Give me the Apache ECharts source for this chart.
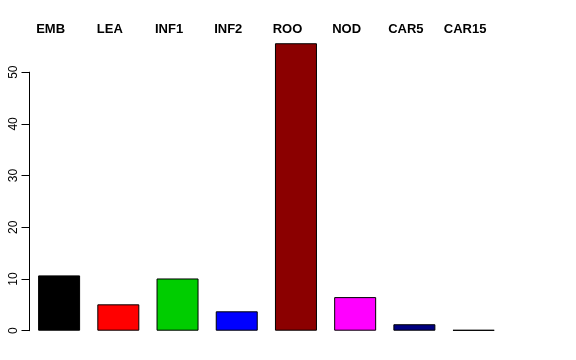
<!DOCTYPE html>
<html>
<head>
<meta charset="utf-8">
<script src="https://cdn.jsdelivr.net/npm/echarts@6/dist/echarts.min.js"></script>
<style>html,body{margin:0;padding:0;background:#fff}#c{width:576px;height:360px}</style>
</head>
<body>
<div id="c"></div>
<script>
const categories = ['EMB', 'LEA', 'INF1', 'INF2', 'ROO', 'NOD', 'CAR5', 'CAR15'];
const values = [10.7, 5.1, 10.1, 3.75, 55.6, 6.5, 1.25, 0.15];
const colors = ['#000000', '#FF0000', '#00CD00', '#0000FF', '#8B0000', '#FF00FF', '#000080', '#222222'];
const yTicks = [0, 10, 20, 30, 40, 50];

const chart = echarts.init(document.getElementById('c'), null, {renderer: 'canvas'});
chart.setOption({
  animation: false,
  backgroundColor: '#ffffff',
  grid: {left: 29.5, right: 72.8, top: 72.2, bottom: 29.3, containLabel: false},
  xAxis: [{
    type: 'category',
    data: categories,
    position: 'top',
    boundaryGap: true,
    axisLine: {show: false},
    axisTick: {show: false},
    splitLine: {show: false},
    axisLabel: {
      show: true, interval: 0, margin: 36,
      fontFamily: 'Liberation Sans, Arial, sans-serif',
      fontWeight: 'bold', fontSize: 13, color: '#000',
      padding: [0, 17, 0, 0]
    }
  }],
  yAxis: [{
    type: 'value',
    min: yTicks[0], max: yTicks[yTicks.length - 1], interval: 10,
    axisLine: {show: true, lineStyle: {color: '#000', width: 1}},
    axisTick: {show: true, length: 8, lineStyle: {color: '#000', width: 1}},
    splitLine: {show: false},
    axisLabel: {
      rotate: 90, margin: 10,
      fontFamily: 'Liberation Sans, Arial, sans-serif',
      fontSize: 12, color: '#000'
    }
  }],
  series: [{
    type: 'bar',
    clip: false,
    barWidth: 42,
    data: values.map((v, i) => ({value: v, itemStyle: {color: colors[i]}})),
    itemStyle: {borderColor: '#000', borderWidth: 1}
  }]
});
</script>
</body>
</html>
